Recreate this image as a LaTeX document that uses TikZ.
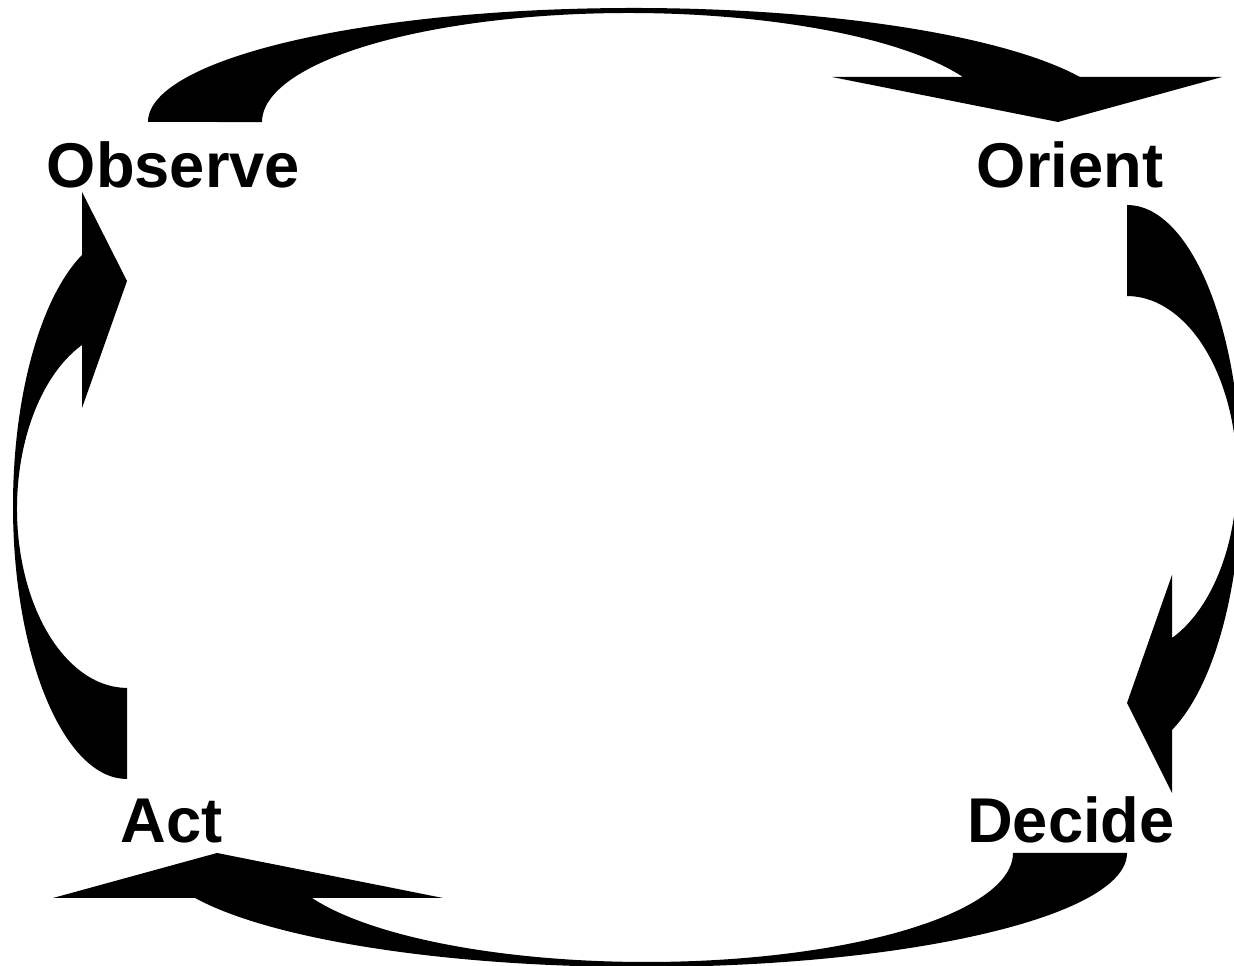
\documentclass[tikz,border=0pt]{standalone}
\usepackage{fontspec}
\setmainfont{Liberation Sans}
\usepackage{tikz}

\begin{document}
\begin{tikzpicture}[x=0.02cm,y=0.02cm,
  bent/.style={fill=black,draw=none},
  phase/.style={font=\fontsize{36}{40}\selectfont\bfseries,inner sep=0pt,anchor=base}]
 \useasboundingbox (0,0) rectangle (1234,966);
 \clip (0,0) rectangle (1234,966);
 % top and bottom arrows
 \path[bent] (148,844) arc[start angle=180,end angle=23.25,x radius=485.7,y radius=114]
   -- (1222,889) -- (1058,844) -- (832,889) -- (963,889)
   arc[start angle=24.4,end angle=180,x radius=366.9,y radius=109] -- cycle;
 \path[bent,rotate around={180:(637.5,478.5)}] (148,844) arc[start angle=180,end angle=23.25,x radius=485.7,y radius=114]
   -- (1222,889) -- (1058,844) -- (832,889) -- (963,889)
   arc[start angle=24.4,end angle=180,x radius=366.9,y radius=109] -- cycle;
 % right and left arrows
 \path[bent] (1127,761) arc[start angle=90,end angle=-66.75,x radius=114,y radius=273.6]
   -- (1172,173) -- (1127,263) -- (1172,391) -- (1172,328)
   arc[start angle=-65.85,end angle=90,x radius=110,y radius=178.8] -- cycle;
 \path[bent] (127,187) arc[start angle=-90,end angle=-246.75,x radius=114,y radius=273.1]
   -- (82,774) -- (127,685) -- (82,558) -- (82,621)
   arc[start angle=-245.85,end angle=-90,x radius=110,y radius=179.3] -- cycle;
 \node[phase] (observe) at (173.5,778) {Observe};
 \node[phase] (orient) at (1070,778) {Orient};
 \node[phase] (decide) at (1071,123) {Decide};
 \node[phase] (act) at (171.5,123) {Act};
\end{tikzpicture}
\end{document}
